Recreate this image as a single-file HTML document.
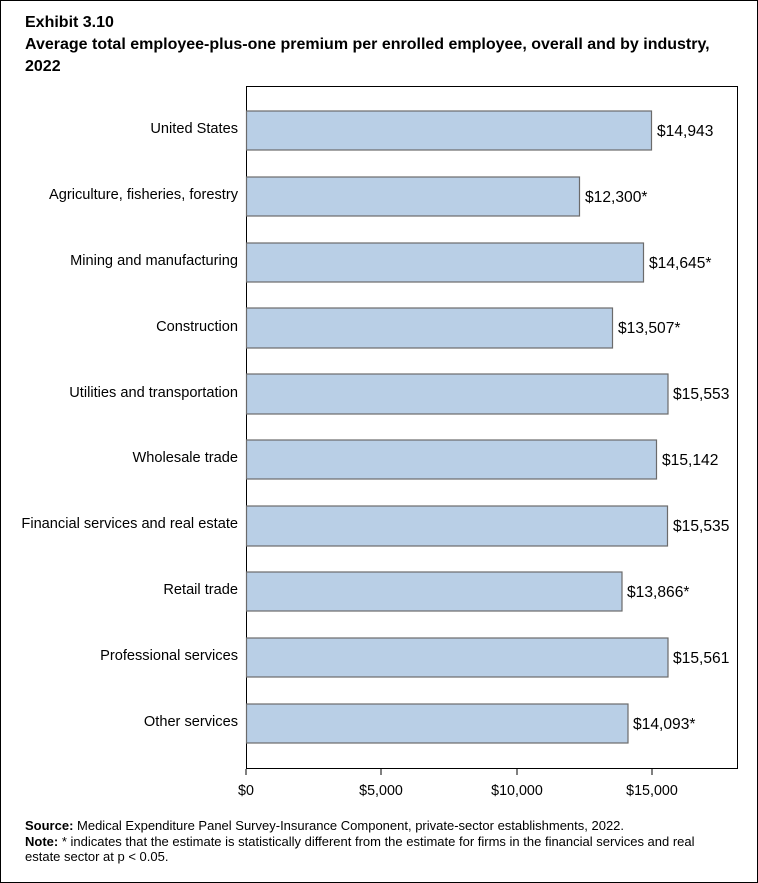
<!DOCTYPE html>
<html><head><style>
body{margin:0;width:758px;height:883px;background:#fff;overflow:hidden}
svg{display:block}
</style></head><body>
<svg width="758" height="883" xmlns="http://www.w3.org/2000/svg" font-family="Liberation Sans, sans-serif">
<rect x="0.5" y="0.5" width="757" height="882" fill="#fff" stroke="#000"/>
<text x="25" y="27" font-size="16" font-weight="bold">Exhibit 3.10</text>
<text x="25" y="49" font-size="16" font-weight="bold">Average total employee-plus-one premium per enrolled employee, overall and by industry,</text>
<text x="25" y="71" font-size="16" font-weight="bold">2022</text>
<rect x="246.5" y="86.5" width="491" height="682" fill="none" stroke="#000"/>
<g font-size="14.3" fill="#000">
<line x1="246" y1="769" x2="246" y2="775" stroke="#000"/>
<line x1="381" y1="769" x2="381" y2="775" stroke="#000"/>
<line x1="517" y1="769" x2="517" y2="775" stroke="#000"/>
<line x1="652" y1="769" x2="652" y2="775" stroke="#000"/>
<text x="246" y="795" text-anchor="middle">$0</text>
<text x="381" y="795" text-anchor="middle">$5,000</text>
<text x="517" y="795" text-anchor="middle">$10,000</text>
<text x="652" y="795" text-anchor="middle">$15,000</text>
</g>
<g font-size="13">
<text x="25" y="830"><tspan font-weight="bold">Source:</tspan> Medical Expenditure Panel Survey-Insurance Component, private-sector establishments, 2022.</text>
<text x="25" y="846"><tspan font-weight="bold">Note:</tspan>  * indicates that the estimate is statistically different from the estimate for firms in the financial services and real</text>
<text x="25" y="861">estate sector at p &lt; 0.05.</text>
</g>
<g font-size="14.6" text-anchor="end">
<text x="238" y="133">United States</text>
<text x="238" y="199">Agriculture, fisheries, forestry</text>
<text x="238" y="265">Mining and manufacturing</text>
<text x="238" y="331">Construction</text>
<text x="238" y="397">Utilities and transportation</text>
<text x="238" y="462">Wholesale trade</text>
<text x="238" y="528">Financial services and real estate</text>
<text x="238" y="594">Retail trade</text>
<text x="238" y="660">Professional services</text>
<text x="238" y="726">Other services</text>
</g>
<g fill="#b9cfe6" stroke="#6b6b6b" stroke-width="1.2">
<rect x="246.5" y="111" width="405" height="39"/>
<rect x="246.5" y="177" width="333" height="39"/>
<rect x="246.5" y="243" width="397" height="39"/>
<rect x="246.5" y="308" width="366" height="40"/>
<rect x="246.5" y="374" width="421.5" height="40"/>
<rect x="246.5" y="440" width="410" height="39"/>
<rect x="246.5" y="506" width="421" height="40"/>
<rect x="246.5" y="572" width="375.5" height="39"/>
<rect x="246.5" y="638" width="421.5" height="39"/>
<rect x="246.5" y="704" width="381.5" height="39"/>
</g>
<g font-size="15.6">
<text x="657" y="136">$14,943</text>
<text x="585" y="202">$12,300*</text>
<text x="649" y="268">$14,645*</text>
<text x="618" y="333">$13,507*</text>
<text x="673" y="399">$15,553</text>
<text x="662" y="465">$15,142</text>
<text x="673" y="531">$15,535</text>
<text x="627" y="597">$13,866*</text>
<text x="673" y="663">$15,561</text>
<text x="633" y="729">$14,093*</text>
</g>
</svg>
</body></html>
